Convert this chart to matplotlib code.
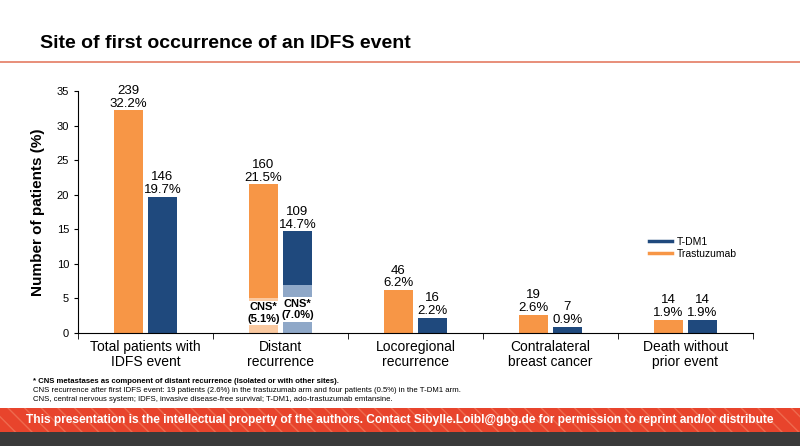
import numpy as np
import matplotlib.pyplot as plt
from matplotlib.patches import Rectangle
from matplotlib.lines import Line2D

plt.rcParams['font.family'] = ['Liberation Sans', 'DejaVu Sans']

categories = ["Total patients with\nIDFS event", "Distant\nrecurrence", "Locoregional\nrecurrence",
              "Contralateral\nbreast cancer", "Death without\nprior event"]
tras_pct = [32.2, 21.5, 6.2, 2.6, 1.9]
tras_n = [239, 160, 46, 19, 14]
tdm1_pct = [19.7, 14.7, 2.2, 0.9, 1.9]
tdm1_n = [146, 109, 16, 7, 14]
cns_tras = 5.1
cns_tdm1 = 7.0

orange = '#F79646'
light_orange = '#FAC9A0'
navy = '#1F497D'
light_navy = '#8FA8C8'

fig = plt.figure(figsize=(8, 4.46), dpi=100)
ax = fig.add_axes([0.0975, 0.2534, 0.8435, 0.5426])

x = np.arange(len(categories))
w = 0.215
off = 0.126
ax.bar(x - off, tras_pct, w, color=orange)
ax.bar(x + off, tdm1_pct, w, color=navy)

# CNS part of distant recurrence
ax.bar(1 - off, cns_tras, w, color=light_orange)
ax.bar(1 + off, cns_tdm1, w, color=light_navy)
ax.text(1 - off, 2.9, "CNS*\n(5.1%)", ha='center', va='center', fontsize=8, fontweight='bold',
        linespacing=1.15, bbox=dict(facecolor='white', edgecolor='none', pad=1.2))
ax.text(1 + off, 3.4, "CNS*\n(7.0%)", ha='center', va='center', fontsize=8, fontweight='bold',
        linespacing=1.15, bbox=dict(facecolor='white', edgecolor='none', pad=1.2))

for i in range(len(categories)):
    ax.text(x[i] - off, tras_pct[i] + 0.1, "%d\n%.1f%%" % (tras_n[i], tras_pct[i]),
            ha='center', va='bottom', fontsize=9.5, linespacing=1.1)
    ax.text(x[i] + off, tdm1_pct[i] + 0.1, "%d\n%.1f%%" % (tdm1_n[i], tdm1_pct[i]),
            ha='center', va='bottom', fontsize=9.5, linespacing=1.1)

ax.set_xlim(-0.5, 4.5)
ax.set_ylim(0, 35)
ax.set_yticks(range(0, 36, 5))
ax.set_xticks(x)
ax.set_xticklabels(categories, fontsize=10, linespacing=1.1)
ax.set_xticks(np.arange(-0.5, 5, 1), minor=True)
ax.tick_params(axis='x', which='major', length=0, pad=5)
ax.tick_params(axis='x', which='minor', length=4, direction='out')
ax.tick_params(axis='y', labelsize=8, length=3)
ax.spines['top'].set_visible(False)
ax.spines['right'].set_visible(False)
ax.set_ylabel("Number of patients (%)", fontsize=11, fontweight='bold', labelpad=8)

handles = [Line2D([0], [0], color=navy, lw=2.5), Line2D([0], [0], color=orange, lw=2.5)]
fig.legend(handles, ["T-DM1", "Trastuzumab"], loc='upper left', bbox_to_anchor=(0.8, 0.49),
           frameon=False, fontsize=7.5, handlelength=2.2, handletextpad=0.4, labelspacing=0.2)

# title and rule
fig.text(0.05, 0.903, "Site of first occurrence of an IDFS event", fontsize=14, fontweight='bold',
         va='center', ha='left')
fig.patches.append(Rectangle((0, 0.858), 1, 0.006, transform=fig.transFigure,
                             facecolor='#E8917C', edgecolor='none'))

# footnotes
fig.text(0.041, 0.141, "* CNS metastases as component of distant recurrence (isolated or with other sites).",
         fontsize=5.6, fontweight='bold')
fig.text(0.041, 0.121, "CNS recurrence after first IDFS event: 19 patients (2.6%) in the trastuzumab arm and "
         "four patients (0.5%) in the T-DM1 arm.", fontsize=5.6)
fig.text(0.041, 0.101, "CNS, central nervous system; IDFS, invasive disease-free survival; T-DM1, "
         "ado-trastuzumab emtansine.", fontsize=5.6)

# footer band
fig.patches.append(Rectangle((0, 0.0314), 1, 0.054, transform=fig.transFigure,
                             facecolor='#E8442C', edgecolor='#EE6A4E', hatch='\\\\', lw=0))
fig.patches.append(Rectangle((0, 0), 1, 0.0314, transform=fig.transFigure,
                             facecolor='#3A3A3A', edgecolor='none'))
fig.text(0.5, 0.058, "This presentation is the intellectual property of the authors. Contact "
         "Sibylle.Loibl@gbg.de for permission to reprint and/or distribute",
         ha='center', va='center', color='white', fontsize=8.6, fontweight='bold')

fig.savefig("out.png", dpi=100)
